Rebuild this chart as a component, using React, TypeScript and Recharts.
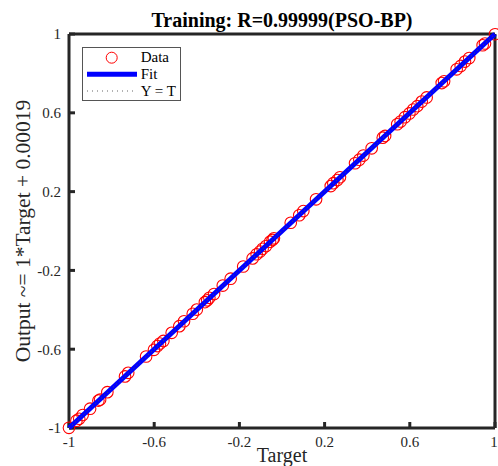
import { ScatterChart, Scatter, XAxis, YAxis, Legend } from 'recharts';

// axis ticks (both axes share them)
const TICKS = [-1, -0.6, -0.2, 0.2, 0.6, 1];

// training samples: targets and network outputs
const TARGETS = [
  -1.0, -0.965, -0.952, -0.936, -0.901, -0.862, -0.854, -0.82, -0.737, -0.722,
  -0.638, -0.601, -0.585, -0.573, -0.557, -0.518, -0.482, -0.46, -0.419, -0.4,
  -0.362, -0.351, -0.341, -0.319, -0.278, -0.241, -0.182, -0.138, -0.119, -0.103,
  -0.091, -0.075, -0.056, -0.044, -0.038, 0.041, 0.081, 0.1, 0.16, 0.229,
  0.241, 0.26, 0.272, 0.343, 0.363, 0.382, 0.421, 0.473, 0.484, 0.541,
  0.557, 0.577, 0.598, 0.616, 0.635, 0.656, 0.679, 0.75, 0.761, 0.82,
  0.839, 0.859, 0.879, 0.942, 0.953, 1.0,
];
const OUTPUTS = [
  -0.999, -0.963, -0.953, -0.934, -0.902, -0.861, -0.856, -0.818, -0.738, -0.72,
  -0.637, -0.603, -0.584, -0.571, -0.558, -0.517, -0.483, -0.458, -0.42, -0.399,
  -0.361, -0.352, -0.339, -0.32, -0.277, -0.242, -0.18, -0.139, -0.118, -0.104,
  -0.09, -0.076, -0.054, -0.045, -0.037, 0.042, 0.08, 0.101, 0.161, 0.228,
  0.243, 0.259, 0.273, 0.344, 0.362, 0.383, 0.42, 0.474, 0.483, 0.542,
  0.556, 0.578, 0.597, 0.617, 0.634, 0.657, 0.678, 0.751, 0.76, 0.821,
  0.838, 0.86, 0.878, 0.943, 0.952, 0.999,
];

// linear fit: Output ~= 1*Target + 0.00019
const FIT_X = [-1, 1];
const FIT_Y = [-0.99981, 1.00019];

// Y = T reference
const IDENT = [-1, 1];

const SERIF = "'Liberation Serif', 'Times New Roman', serif";
const AXIS_COLOR = '#262626';

const dataPoints = TARGETS.map((t, i) => ({ x: t, y: OUTPUTS[i] }));
const fitPoints = FIT_X.map((x, i) => ({ x, y: FIT_Y[i] }));
const identPoints = IDENT.map((v) => ({ x: v, y: v }));

const DataMarker = (props: any) => (
  <circle cx={props.cx} cy={props.cy} r={5.8} fill="none" stroke="#ff0000" strokeWidth={1.1} />
);
const NoMarker = () => <g />;

const XTick = ({ x, y, payload }: any) => (
  <text x={x} y={y} dy="0.71em" textAnchor="middle" fontFamily={SERIF} fontSize={15} fill={AXIS_COLOR}>
    {payload.value}
  </text>
);

const YTick = ({ x, y, payload }: any) => (
  <text x={x} y={y} dy="0.355em" textAnchor="end" fontFamily={SERIF} fontSize={15} fill={AXIS_COLOR}>
    {payload.value}
  </text>
);

const TitleLabel = ({ viewBox }: any) => (
  <text
    x={viewBox.x + viewBox.width / 2}
    y={27}
    textAnchor="middle"
    fontFamily={SERIF}
    fontSize={20}
    fontWeight="bold"
    fill="#000"
  >
    Training: R=0.99999(PSO-BP)
  </text>
);

const YLabel = ({ viewBox }: any) => {
  const cx = 23;
  const cy = viewBox.y + viewBox.height / 2;
  return (
    <text
      x={cx}
      y={cy}
      transform={`rotate(-90 ${cx} ${cy})`}
      textAnchor="middle"
      dominantBaseline="central"
      fontFamily={SERIF}
      fontSize={21.5}
      fill={AXIS_COLOR}
    >
      Output ~= 1*Target + 0.00019
    </text>
  );
};

const XLabel = ({ viewBox }: any) => (
  <text
    x={viewBox.x + viewBox.width / 2}
    y={462}
    textAnchor="middle"
    fontFamily={SERIF}
    fontSize={20}
    fill={AXIS_COLOR}
  >
    Target
  </text>
);

const LegendBox = () => (
  <div style={{ width: 99, height: 54, border: '1px solid #555', boxSizing: 'border-box', background: '#fff', position: 'relative' }}>
    <svg width={97} height={52} style={{ position: 'absolute', left: 0, top: 0 }}>
      <circle cx={28.7} cy={9.7} r={5.5} fill="none" stroke="#ff0000" strokeWidth={1} />
      <line x1={4} x2={54} y1={26.3} y2={26.3} stroke="#0000ff" strokeWidth={5} />
      <line x1={4} x2={51} y1={43} y2={43} stroke="#666" strokeWidth={1} strokeDasharray="1 4" />
      <text x={57.7} y={14.3} fontFamily={SERIF} fontSize={15} fill="#000">Data</text>
      <text x={57.7} y={31} fontFamily={SERIF} fontSize={15} fill="#000">Fit</text>
      <text x={57.7} y={47.7} fontFamily={SERIF} fontSize={15} fill="#000">Y = T</text>
    </svg>
  </div>
);

export default function App() {
  return (
    <div style={{ position: 'absolute', left: 0, top: 0, background: '#fff', fontFamily: SERIF }}>
      <ScatterChart width={498} height={466} margin={{ top: 4, right: 0, bottom: 0, left: 9 }}>
        <XAxis
          type="number"
          dataKey="x"
          domain={[-1, 1]}
          ticks={TICKS}
          height={38}
          tickSize={-6}
          tickMargin={14}
          tick={XTick}
          axisLine={{ stroke: AXIS_COLOR, strokeWidth: 3 }}
          tickLine={{ stroke: AXIS_COLOR, strokeWidth: 3 }}
          label={{ content: XLabel }}
        />
        <XAxis
          xAxisId="top"
          orientation="top"
          type="number"
          domain={[-1, 1]}
          ticks={TICKS}
          height={30}
          tickSize={-6}
          tick={false}
          axisLine={{ stroke: AXIS_COLOR, strokeWidth: 3 }}
          tickLine={{ stroke: AXIS_COLOR, strokeWidth: 3 }}
          label={{ content: TitleLabel }}
        />
        <YAxis
          type="number"
          dataKey="y"
          domain={[-1, 1]}
          ticks={TICKS}
          width={60}
          tickSize={-6}
          tickMargin={14}
          tick={YTick}
          axisLine={{ stroke: AXIS_COLOR, strokeWidth: 3 }}
          tickLine={{ stroke: AXIS_COLOR, strokeWidth: 3 }}
          label={{ content: YLabel }}
        />
        <YAxis
          yAxisId="right"
          orientation="right"
          type="number"
          domain={[-1, 1]}
          ticks={TICKS}
          width={3}
          tickSize={-6}
          tick={false}
          axisLine={{ stroke: AXIS_COLOR, strokeWidth: 3 }}
          tickLine={{ stroke: AXIS_COLOR, strokeWidth: 3 }}
        />
        <Scatter name="Data" data={dataPoints} shape={DataMarker} isAnimationActive={false} />
        <Scatter
          name="Fit"
          data={fitPoints}
          shape={NoMarker}
          line={{ stroke: '#0000ff', strokeWidth: 5 }}
          isAnimationActive={false}
        />
        <Scatter
          name="Y = T"
          data={identPoints}
          shape={NoMarker}
          line={{ stroke: '#555', strokeWidth: 1, strokeDasharray: '1 3' }}
          isAnimationActive={false}
        />
        <Legend
          layout="vertical"
          align="center"
          verticalAlign="middle"
          content={LegendBox}
          wrapperStyle={{ position: 'absolute', left: 82, top: 47, width: 99, height: 54 }}
        />
      </ScatterChart>
    </div>
  );
}
